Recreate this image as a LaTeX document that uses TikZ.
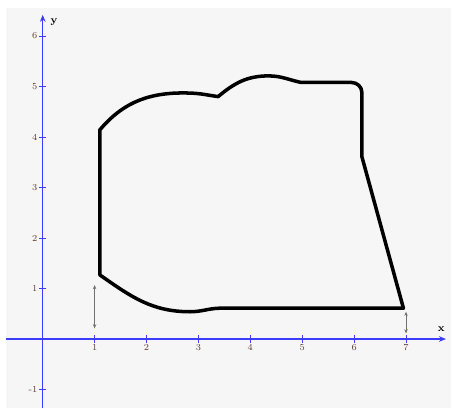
\documentclass[tikz,border=0pt]{standalone}
\usepackage{tikz}
\usetikzlibrary{arrows.meta}
\definecolor{axisblue}{HTML}{3C3CFF}
\definecolor{panelgray}{HTML}{F6F6F6}
\definecolor{ticktext}{HTML}{5A3A30}
\definecolor{markgray}{HTML}{707070}

\begin{document}
\begin{tikzpicture}[x=1.2975cm, y=1.2625cm,
  axis/.style={axisblue, line width=0.9pt, -{Stealth[length=5pt, width=4pt]}},
  axtick/.style={axisblue, line width=0.6pt},
  ticklab/.style={text=ticktext, font=\fontsize{6.5}{7}\selectfont, inner sep=1pt},
  axlab/.style={font=\fontsize{7.5}{8}\selectfont\bfseries, inner sep=0pt},
  outline/.style={line width=2.5pt, line join=round},
  gap/.style={markgray, line width=0.6pt, {Stealth[length=3pt, width=2.4pt]}-{Stealth[length=3pt, width=2.4pt]}}]

\useasboundingbox (-0.823,-1.366) rectangle (7.886,6.713);
\fill[panelgray] (-0.707,-1.366) rectangle (7.867,6.554);

% axes
\coordinate (xstart) at (-0.707,0);
\coordinate (xend) at (7.77,0);
\coordinate (ystart) at (0,-1.366);
\coordinate (yend) at (0,6.42);
\draw[axis] (xstart) -- (xend);
\draw[axis] (ystart) -- (yend);
\node[axlab] (xlab) at (7.68,0.2) {x};
\node[axlab] (ylab) at (0.22,6.28) {y};

\foreach \i in {1,...,7}
  \draw[axtick] (\i,0.07) -- (\i,-0.07) node[ticklab, below] (xt\i) {\i};
\foreach \j in {-1,1,2,3,4,5,6}
  \draw[axtick] (0.07,\j) -- (-0.07,\j) node[ticklab, left] (yt\j) {\j};

% region outline
\draw[outline] (1.1,1.27) -- (1.1,4.14)
  to[out=50, in=178] (2.84,4.87)
  to[out=-2, in=172] (3.38,4.8)
  to[out=40, in=180] (4.35,5.21)
  to[out=0, in=168] (4.98,5.08)
  -- (5.95,5.08)
  to[out=0, in=90] (6.15,4.88)
  -- (6.15,3.61)
  -- (6.95,0.61)
  -- (3.4,0.61)
  to[out=182, in=0] (2.84,0.54)
  to[out=180, in=-35] cycle;

% gap markers
\coordinate (gapLtop) at (1,1.07);
\coordinate (gapLbot) at (1,0.21);
\coordinate (gapRtop) at (7,0.54);
\coordinate (gapRbot) at (7,0.11);
\draw[gap] (gapLtop) -- (gapLbot);
\draw[gap] (gapRtop) -- (gapRbot);
\end{tikzpicture}
\end{document}
